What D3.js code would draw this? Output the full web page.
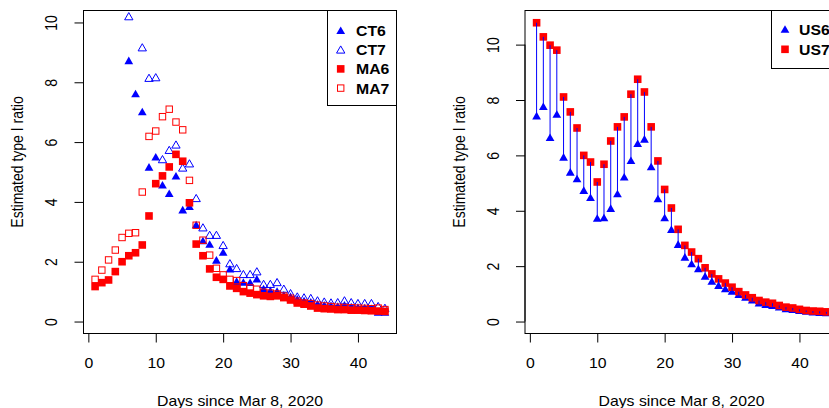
<!DOCTYPE html>
<html>
<head>
<meta charset="utf-8">
<script src="https://cdn.jsdelivr.net/npm/d3@7"></script>
<style>
html,body{margin:0;padding:0;background:#fff;}
svg{display:block;}
text{font-family:"Liberation Sans",Arial,Helvetica,sans-serif;fill:#000;}
</style>
</head>
<body>
<div id="chart"></div>
<script>
// ---------- data ----------
const days = d3.range(1, 45);
const xTicks = [0, 10, 20, 30, 40];
const yTicksLeft = [0, 2, 4, 6, 8, 10];
const yTicksRight = [0, 2, 4, 6, 8, 10];

const CT6 = [null, null, null, null, null, 8.69, 7.58, 6.98, 5.13, 5.47,
  4.53, 4.25, 4.83, 3.70, 3.81, 3.20, 2.67, 2.55, 2.02, 2.28,
  1.72, 1.31, 1.28, 1.27, 1.39, 1.06, 1.00, 0.98, 0.85, 0.80,
  0.72, 0.66, 0.62, 0.55, 0.52, 0.50, 0.48, 0.52, 0.46, 0.44,
  0.43, 0.40, 0.28, 0.28];
const CT7 = [null, null, null, null, null, 10.17, null, 9.13, 8.11, 8.13,
  5.39, 5.70, 5.88, 5.11, 5.25, 4.09, 3.11, 2.86, 2.86, 2.52,
  1.91, 1.75, 1.55, 1.55, 1.64, 1.22, 1.22, 1.28, 1.06, 0.91,
  0.80, 0.77, 0.75, 0.67, 0.63, 0.60, 0.61, 0.67, 0.61, 0.58,
  0.58, 0.58, 0.48, 0.42];
const MA6 = [1.17, 1.30, 1.39, 1.67, 2.00, 2.20, 2.30, 2.56, 3.53, 4.61,
  4.87, 5.17, 5.59, 5.36, 3.97, 2.59, 2.20, 1.76, 1.48, 1.41,
  1.19, 1.11, 1.00, 0.95, 0.90, 0.86, 0.84, 0.86, 0.80, 0.72,
  0.62, 0.58, 0.52, 0.45, 0.43, 0.42, 0.40, 0.40, 0.38, 0.38,
  0.37, 0.36, 0.35, 0.34];
const MA7 = [1.41, 1.72, 2.06, 2.39, 2.81, 2.95, 2.97, 4.33, 6.19, 6.37,
  6.85, 7.10, 6.67, 6.41, 4.72, 3.22, 2.72, 2.22, 1.78, 1.56,
  1.41, 1.37, 1.20, 1.12, 1.08, 0.98, 0.95, 0.92, 0.85, 0.78,
  0.68, 0.62, 0.60, 0.55, 0.52, 0.50, 0.48, 0.47, 0.46, 0.45,
  0.44, 0.43, 0.45, 0.40];

const US6 = [7.39, 7.73, 6.61, 7.45, 5.90, 5.36, 5.12, 4.70, 4.44, 3.69,
  3.71, 4.05, 4.58, 5.18, 5.78, 6.39, 6.55, 5.55, 4.40, 3.71,
  3.29, 2.75, 2.29, 2.05, 1.87, 1.60, 1.42, 1.27, 1.15, 1.06,
  0.94, 0.84, 0.74, 0.63, 0.58, 0.54, 0.49, 0.43, 0.40, 0.36,
  0.34, 0.31, 0.29, 0.28];
const US7 = [10.79, 10.28, 9.98, 9.80, 8.11, 7.57, 6.99, 6.00, 5.76, 5.04,
  5.68, 6.52, 7.03, 7.39, 8.21, 8.75, 8.29, 7.03, 5.80, 4.77,
  4.10, 3.33, 2.75, 2.51, 2.27, 1.94, 1.72, 1.54, 1.39, 1.24,
  1.08, 0.96, 0.86, 0.76, 0.70, 0.66, 0.58, 0.52, 0.49, 0.44,
  0.40, 0.38, 0.37, 0.35];

const xLabel = "Days since Mar 8, 2020";
const yLabel = "Estimated type I ratio";
const legendLeft = ["CT6", "CT7", "MA6", "MA7"];
const legendRight = ["US6", "US7"];

// ---------- layout ----------
const W = 829, H = 408;
const BLUE = "#0000FF", RED = "#FF0000";
const FS = 14;      // base font size
const SX = 1.13;    // horizontal stretch of the original picture

const svg = d3.select("#chart").append("svg")
  .attr("width", W).attr("height", H);

function makePanel(box, yDomain, yTicks) {
  const x = d3.scaleLinear().domain([-0.72, 45.72]).range([box.x0, box.x1]);
  const y = d3.scaleLinear().domain(yDomain).range([box.y1, box.y0]);
  const g = svg.append("g");

  // x axis
  const xa = g.append("g").attr("transform", `translate(0,${box.y1})`)
    .call(d3.axisBottom(x).tickValues(xTicks).tickSize(9).tickSizeOuter(0).tickFormat(d3.format("d")));
  xa.select(".domain").attr("d", `M${x(xTicks[0])},0H${x(xTicks[xTicks.length-1])}`);
  xa.selectAll("line").attr("stroke", "#000");
  xa.selectAll("text").attr("y", 35).attr("dy", null)
    .attr("transform", `scale(${SX},1)`)
    .style("font-size", FS + "px");

  // y axis
  const ya = g.append("g").attr("transform", `translate(${box.x0},0)`)
    .call(d3.axisLeft(y).tickValues(yTicks).tickSize(9).tickSizeOuter(0).tickFormat(d3.format("d")));
  ya.select(".domain").attr("d", `M0,${y(yTicks[0])}V${y(yTicks[yTicks.length-1])}`);
  ya.selectAll("text")
    .attr("transform", `scale(${SX},1) rotate(-90)`)
    .attr("x", 0).attr("y", -26.5 / SX).attr("dy", null)
    .attr("text-anchor", "middle")
    .style("font-size", FS + "px");

  // box
  g.append("rect").attr("x", box.x0).attr("y", box.y0)
    .attr("width", box.x1 - box.x0).attr("height", box.y1 - box.y0)
    .attr("fill", "none").attr("stroke", "#000").attr("stroke-width", 1);

  // titles
  g.append("text")
    .attr("transform", `translate(${(box.x0 + box.x1) / 2},405.5) scale(${SX},1)`)
    .attr("text-anchor", "middle").style("font-size", FS + "px").text(xLabel);
  g.append("text")
    .attr("transform", `translate(${box.x0 - 60.5},162) scale(${SX},1) rotate(-90)`)
    .attr("text-anchor", "middle").style("font-size", FS + "px").text(yLabel);

  const plot = g.append("g");
  return {x, y, g, plot};
}

const tri = d3.symbol().type(d3.symbolTriangle).size(33);
const triOpen = d3.symbol().type(d3.symbolTriangle).size(30);
const SQ = 7.6, SQO = 6.4;

function drawTri(sel, data, x, y, filled) {
  sel.selectAll(null).data(data.filter(d => d.v != null)).join("path")
    .attr("d", filled ? tri : triOpen)
    .attr("transform", d => `translate(${x(d.day)},${y(d.v)})`)
    .attr("fill", filled ? BLUE : "none")
    .attr("stroke", filled ? "none" : BLUE)
    .attr("stroke-width", 1);
}
function drawSq(sel, data, x, y, filled) {
  const s = filled ? SQ : SQO;
  sel.selectAll(null).data(data.filter(d => d.v != null)).join("rect")
    .attr("x", d => x(d.day) - s / 2).attr("y", d => y(d.v) - s / 2)
    .attr("width", s).attr("height", s)
    .attr("fill", filled ? RED : "none")
    .attr("stroke", filled ? "none" : RED)
    .attr("stroke-width", 1);
}
const rows = arr => days.map((day, i) => ({day, v: arr[i]}));

function legendText(sel, x, y, name) {
  sel.append("text").attr("transform", `translate(${x},${y}) scale(${SX},1)`)
    .style("font-size", FS + "px").style("font-weight", "bold").text(name);
}

// ---------- left panel ----------
const L = makePanel({x0: 83.5, x1: 396.5, y0: 10.5, y1: 333.5}, [-0.4, 10.4], yTicksLeft);
drawTri(L.plot.append("g"), rows(CT6), L.x, L.y, true);
drawTri(L.plot.append("g"), rows(CT7), L.x, L.y, false);
drawSq(L.plot.append("g"), rows(MA6), L.x, L.y, true);
drawSq(L.plot.append("g"), rows(MA7), L.x, L.y, false);

// left legend
{
  const lg = L.g.append("g");
  lg.append("rect").attr("x", 327.5).attr("y", 10.5).attr("width", 69).attr("height", 95)
    .attr("fill", "#fff").attr("stroke", "#000");
  const ys = [30.5, 49.7, 68.9, 88.1];
  legendLeft.forEach((name, i) => {
    const cy = ys[i], cx = 340.7;
    if (i === 0) lg.append("path").attr("d", tri).attr("transform", `translate(${cx},${cy+1})`).attr("fill", BLUE);
    if (i === 1) lg.append("path").attr("d", triOpen).attr("transform", `translate(${cx},${cy+1})`).attr("fill", "none").attr("stroke", BLUE);
    if (i === 2) lg.append("rect").attr("x", cx - SQ/2).attr("y", cy - SQ/2).attr("width", SQ).attr("height", SQ).attr("fill", RED);
    if (i === 3) lg.append("rect").attr("x", cx - SQO/2).attr("y", cy - SQO/2).attr("width", SQO).attr("height", SQO).attr("fill", "none").attr("stroke", RED);
    legendText(lg, 356, cy + 5.5, name);
  });
}

// ---------- right panel ----------
const R = makePanel({x0: 525, x1: 838, y0: 10.5, y1: 333.5}, [-0.432, 11.232], yTicksRight);
const usRows = days.map((day, i) => ({day, a: US6[i], b: US7[i]}));
drawTri(R.plot.append("g"), rows(US6), R.x, R.y, true);
drawSq(R.plot.append("g"), rows(US7), R.x, R.y, true);
R.plot.append("g").selectAll("line").data(usRows).join("line")
  .attr("x1", d => R.x(d.day)).attr("x2", d => R.x(d.day))
  .attr("y1", d => R.y(d.a)).attr("y2", d => R.y(d.b))
  .attr("stroke", BLUE).attr("stroke-width", 1);

// right legend
{
  const lg = R.g.append("g");
  lg.append("rect").attr("x", 771.5).attr("y", 10.5).attr("width", 90).attr("height", 58)
    .attr("fill", "#fff").attr("stroke", "#000");
  const ys = [29.3, 49.3];
  legendRight.forEach((name, i) => {
    const cy = ys[i], cx = 785;
    if (i === 0) lg.append("path").attr("d", tri).attr("transform", `translate(${cx},${cy+1})`).attr("fill", BLUE);
    if (i === 1) lg.append("rect").attr("x", cx - SQ/2).attr("y", cy - SQ/2).attr("width", SQ).attr("height", SQ).attr("fill", RED);
    legendText(lg, 799, cy + 5.5, name);
  });
}
</script>
</body>
</html>
